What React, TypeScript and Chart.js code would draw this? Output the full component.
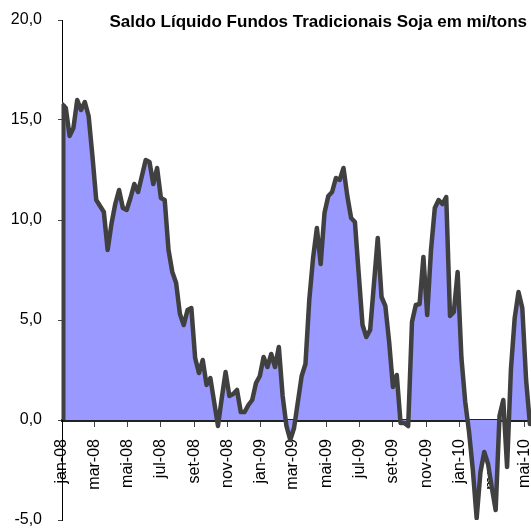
import React, { useEffect, useRef } from "react";
import { Chart, registerables } from "chart.js";

Chart.register(...registerables);

const TITLE = "Saldo Líquido Fundos Tradicionais Soja em mi/tons";
const START_DATE = "2008-01-01";
const X_MAX_DATE = "2010-05-13";

// Weekly net position (million tons), from jan-08
const values: number[] = [
  15.8, 15.6, 14.2, 14.6, 16.0, 15.5, 15.9, 15.2, 13.2, 11.0,
  10.7, 10.4, 8.5, 9.8, 10.8, 11.5, 10.6, 10.5, 11.1, 11.8,
  11.4, 12.2, 13.0, 12.9, 11.8, 12.6, 11.1, 11.0, 8.5, 7.4,
  6.85, 5.3, 4.75, 5.5, 5.6, 3.1, 2.35, 3.0, 1.75, 2.1,
  0.9, -0.3, 1.1, 2.4, 1.2, 1.3, 1.5, 0.4, 0.4, 0.75,
  1.0, 1.85, 2.2, 3.15, 2.65, 3.3, 2.65, 3.65, 1.2, -0.3,
  -1.0, -0.4, 0.9, 2.2, 2.8, 6.0, 8.1, 9.6, 7.8, 10.35,
  11.2, 11.4, 12.1, 12.0, 12.6, 11.2, 10.1, 9.9, 7.3, 4.75,
  4.15, 4.5, 6.8, 9.1, 6.15, 5.7, 3.9, 1.65, 2.25, -0.15,
  -0.15, -0.3, 4.9, 5.75, 5.8, 8.15, 5.25, 8.5, 10.6, 11.0,
  10.8, 11.15, 5.2, 5.4, 7.4, 3.1, 0.9, -0.6, -2.5, -4.9,
  -2.6, -1.6, -2.2, -3.4, -4.5, 0.2, 1.0, -2.35, 2.5, 5.1,
  6.4, 5.6, 2.0, -0.2,
];

const tickLabels: string[] = [
  "jan-08", "mar-08", "mai-08", "jul-08", "set-08", "nov-08",
  "jan-09", "mar-09", "mai-09", "jul-09", "set-09", "nov-09",
  "jan-10", "mar-10", "mai-10",
];
const tickDates: string[] = [
  "2008-01-01", "2008-03-01", "2008-05-01", "2008-07-01", "2008-09-01", "2008-11-01",
  "2009-01-01", "2009-03-01", "2009-05-01", "2009-07-01", "2009-09-01", "2009-11-01",
  "2010-01-01", "2010-03-01", "2010-05-01",
];

const Y_MIN = -5;
const Y_MAX = 20;
const Y_STEP = 5;

const DAY = 86400000;
const dayOf = (d: string) => (Date.parse(d) - Date.parse(START_DATE)) / DAY;

const LINE_COLOR = "#404040";
const FILL_COLOR = "#9999ff";
const FONT = "'Liberation Sans', Arial, sans-serif";

export default function App() {
  const ref = useRef<HTMLCanvasElement | null>(null);

  useEffect(() => {
    if (!ref.current) return;
    const points = values.map((v, i) => ({ x: i * 7, y: v }));
    const tickDays = tickDates.map(dayOf);

    const decor = {
      id: "decor",
      afterDatasetsDraw(chart: any) {
        const { ctx, scales } = chart;
        const x0 = scales.x.getPixelForValue(points[0].x);
        const yz = scales.y.getPixelForValue(0);
        const y1 = scales.y.getPixelForValue(points[0].y);
        ctx.save();
        ctx.strokeStyle = LINE_COLOR;
        ctx.lineWidth = 4;
        ctx.beginPath();
        ctx.moveTo(x0 + 1.5, yz);
        ctx.lineTo(x0 + 1.5, y1);
        ctx.stroke();
        ctx.restore();
      },
      afterDraw(chart: any) {
        const { ctx } = chart;
        ctx.save();
        ctx.font = `bold 17px ${FONT}`;
        ctx.fillStyle = "#000";
        ctx.textAlign = "right";
        ctx.textBaseline = "alphabetic";
        ctx.fillText(TITLE, chart.width - 4, 27);
        ctx.restore();
      },
    };

    const chart = new Chart(ref.current, {
      type: "line",
      data: {
        datasets: [
          {
            data: points,
            borderColor: LINE_COLOR,
            backgroundColor: FILL_COLOR,
            borderWidth: 4.5,
            fill: "origin",
            pointRadius: 0,
            tension: 0,
            borderJoinStyle: "round",
            borderCapStyle: "round",
          },
        ],
      },
      options: {
        animation: false,
        responsive: false,
        maintainAspectRatio: false,
        layout: { padding: { top: 20, bottom: 9, left: 0, right: 0 } },
        plugins: { legend: { display: false }, tooltip: { enabled: false }, title: { display: false } },
        scales: {
          x: {
            type: "linear",
            position: { y: 0 },
            min: 0,
            max: dayOf(X_MAX_DATE),
            z: 1,
            afterBuildTicks(scale: any) {
              scale.ticks = tickDays.map((v) => ({ value: v }));
            },
            afterFit(scale: any) {
              scale.height = 0;
              scale.paddingLeft = 0;
              scale.paddingRight = 0;
            },
            ticks: {
              autoSkip: false,
              minRotation: 90,
              maxRotation: 90,
              padding: 14,
              color: "#000",
              font: { family: FONT, size: 16 },
              callback(v: any) {
                const i = tickDays.indexOf(Number(v));
                return i >= 0 ? tickLabels[i] : "";
              },
            },
            grid: { drawOnChartArea: false, drawTicks: true, tickLength: 5, color: "#444" },
            border: { display: true, color: "#222", width: 3 },
          },
          y: {
            min: Y_MIN,
            max: Y_MAX,
            z: 1,
            afterFit(scale: any) {
              scale.width = 62;
              scale.paddingTop = 0;
              scale.paddingBottom = 0;
            },
            ticks: {
              stepSize: Y_STEP,
              padding: 16,
              color: "#000",
              font: { family: FONT, size: 16 },
              callback(v: any) {
                return Number(v).toFixed(1).replace(".", ",");
              },
            },
            grid: { drawOnChartArea: false, drawTicks: true, tickLength: 4, color: "#444" },
            border: { display: true, color: "#000", width: 1 },
          },
        },
      },
      plugins: [decor],
    } as any);
    return () => chart.destroy();
  }, []);

  return (
    <div style={{ position: "absolute", left: 0, top: 0, width: 531, height: 529, background: "#fff" }}>
      <canvas ref={ref} width={531} height={529} style={{ width: 531, height: 529, display: "block" }} />
    </div>
  );
}
